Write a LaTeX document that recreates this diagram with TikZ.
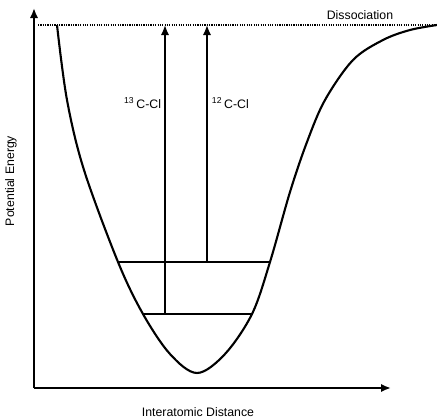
\documentclass[tikz,border=0pt]{standalone}
\usepackage{fontspec}
\setmainfont{Liberation Sans}
\usetikzlibrary{arrows.meta,positioning}

\begin{document}
\begin{tikzpicture}[
    x=0.03cm, y=-0.03cm,
    font=\fontsize{10.5}{12}\selectfont,
    axis/.style={line width=2pt},
    arrow/.style={-{Latex[length=3mm,width=2.5mm]}, line width=1.5pt},
    curve/.style={line width=1.8pt},
    level/.style={line width=1.4pt},
    limit/.style={densely dotted, line width=1pt}
]
\useasboundingbox (0,0) rectangle (437,418);

% Axes
\coordinate (origin) at (34,388);
\coordinate (ytop) at (34,8);
\coordinate (xend) at (391,388);
\draw[axis, -{Latex[length=3mm,width=2.5mm]}] (origin) -- (ytop);
\draw[axis, -{Latex[length=3mm,width=2.5mm]}] (origin) -- (xend);

% Dissociation limit
\coordinate (dleft) at (38,25);
\coordinate (dright) at (437,25);
\draw[limit] (dleft) -- (dright);

% Potential curve
\draw[curve] plot[smooth, tension=0.55] coordinates {
    (57,25) (67,100) (84,170) (118,262) (143,314) (170,354) (197,373)
    (225,354) (252,314) (270,262) (290,192) (307,142) (325,100)
    (353,60) (383,40) (410,30) (437,25)};

% Vibrational levels
\coordinate (v0l) at (143,314);
\coordinate (v0r) at (252,314);
\coordinate (v1l) at (118,262);
\coordinate (v1r) at (270,262);
\draw[level] (v0l) -- (v0r);
\draw[level] (v1l) -- (v1r);

% Transitions
\coordinate (c13) at (165,314);
\coordinate (c13top) at (165,25);
\coordinate (c12) at (207,262);
\coordinate (c12top) at (207,25);
\draw[arrow] (c13) -- (c13top);
\draw[arrow] (c12) -- (c12top);

% Labels
\node[anchor=east, inner sep=1.5pt] (lab13) at (163,103) {\textsuperscript{13}\,C-Cl};
\node[anchor=west, inner sep=1.5pt] (lab12) at (210,103) {\textsuperscript{12}\,C-Cl};
\node (diss) at (360,15) {Dissociation};
\node[rotate=90] (yname) at (11,181) {Potential Energy};
\node (xname) at (198,412) {Interatomic Distance};

\end{tikzpicture}
\end{document}
